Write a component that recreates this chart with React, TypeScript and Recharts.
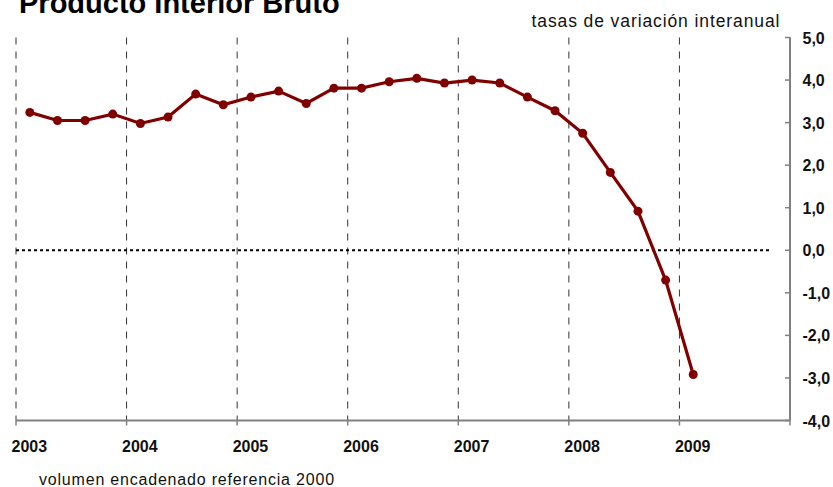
import React from 'react';
import { LineChart, Line, XAxis, YAxis, CartesianGrid, ReferenceLine } from 'recharts';

const quarters = [
  '2003T1', '2003T2', '2003T3', '2003T4',
  '2004T1', '2004T2', '2004T3', '2004T4',
  '2005T1', '2005T2', '2005T3', '2005T4',
  '2006T1', '2006T2', '2006T3', '2006T4',
  '2007T1', '2007T2', '2007T3', '2007T4',
  '2008T1', '2008T2', '2008T3', '2008T4',
  '2009T1',
];
const pib = [
  3.24, 3.05, 3.05, 3.2,
  2.98, 3.13, 3.67, 3.42,
  3.6, 3.74, 3.45, 3.81,
  3.81, 3.96, 4.04, 3.93,
  4.0, 3.93, 3.6, 3.28,
  2.75, 1.83, 0.92, -0.7,
  -2.92,
];
const yearTicks = [0, 4, 8, 12, 16, 20, 24, 28];
const yearLabels = ['2003', '2004', '2005', '2006', '2007', '2008', '2009', ''];
const yTicks = [-4, -3, -2, -1, 0, 1, 2, 3, 4, 5];

const title = 'Producto Interior Bruto';
const subtitle = 'tasas de variación interanual';
const footnote = 'volumen encadenado referencia 2000';

const data = pib.map((v, i) => ({ pos: i + 0.5, trimestre: quarters[i], v }));

const FONT = '"Liberation Sans", Arial, Helvetica, sans-serif';

const XTick = (props: any) => {
  const { x, y, payload } = props;
  const idx = yearTicks.indexOf(payload.value);
  const label = idx >= 0 ? yearLabels[idx] : '';
  return (
    <text x={x - 4.5} y={y + 26.5} textAnchor="start" fontFamily={FONT} fontSize={16} fontWeight="bold" fill="#111">
      {label}
    </text>
  );
};

const YTick = (props: any) => {
  const { x, y, payload } = props;
  const label = Number(payload.value).toFixed(1).replace('.', ',');
  return (
    <g>
      <line x1={x - 5} x2={x} y1={y} y2={y} stroke="#808080" strokeWidth={1.5} />
      <text x={x + 12.5} y={y + 6} textAnchor="start" fontFamily={FONT} fontSize={16} fontWeight="bold" fill="#111">
        {label}
      </text>
    </g>
  );
};

export default function App() {
  return (
    <div style={{ position: 'absolute', left: 0, top: 0, width: 833, height: 487, background: '#fff', overflow: 'hidden' }}>
      <LineChart
        width={833}
        height={487}
        data={data}
        margin={{ top: 37.5, right: 3, bottom: 36.5, left: 16 }}
      >
        <CartesianGrid horizontal={false} stroke="#333" strokeDasharray="7 7" />
        <XAxis
          dataKey="pos"
          type="number"
          domain={[0, 28]}
          ticks={yearTicks}
          interval={0}
          height={30}
          tickSize={5}
          tickMargin={0}
          tick={<XTick />}
          axisLine={{ stroke: '#808080', strokeWidth: 2 }}
          tickLine={{ stroke: '#808080', strokeWidth: 1.5 }}
        />
        <YAxis
          orientation="right"
          width={40}
          type="number"
          domain={[-4, 5]}
          ticks={yTicks}
          interval={0}
          tickSize={0}
          tickMargin={0}
          tickLine={false}
          tick={<YTick />}
          axisLine={{ stroke: '#808080', strokeWidth: 2 }}
        />
        <ReferenceLine
          segment={[{ x: 0, y: 0 }, { x: 27.28, y: 0 }]}
          stroke="#000"
          strokeWidth={2}
          strokeDasharray="3 3"
          ifOverflow="visible"
        />
        <Line
          dataKey="v"
          type="linear"
          stroke="#800000"
          strokeWidth={3.2}
          dot={{ r: 4.5, fill: '#800000', stroke: 'none' }}
          activeDot={false}
          isAnimationActive={false}
        />
      </LineChart>
      <svg width={833} height={487} style={{ position: 'absolute', left: 0, top: 0, pointerEvents: 'none' }}>
        <text x={19} y={12.5} fontFamily={FONT} fontSize={29} fontWeight="bold" fill="#000">{title}</text>
        <text x={531.5} y={27} fontFamily={FONT} fontSize={17.5} letterSpacing={0.9} fill="#111">{subtitle}</text>
        <text x={39} y={484.5} fontFamily={FONT} fontSize={16} letterSpacing={0.8} fill="#111">{footnote}</text>
      </svg>
    </div>
  );
}
